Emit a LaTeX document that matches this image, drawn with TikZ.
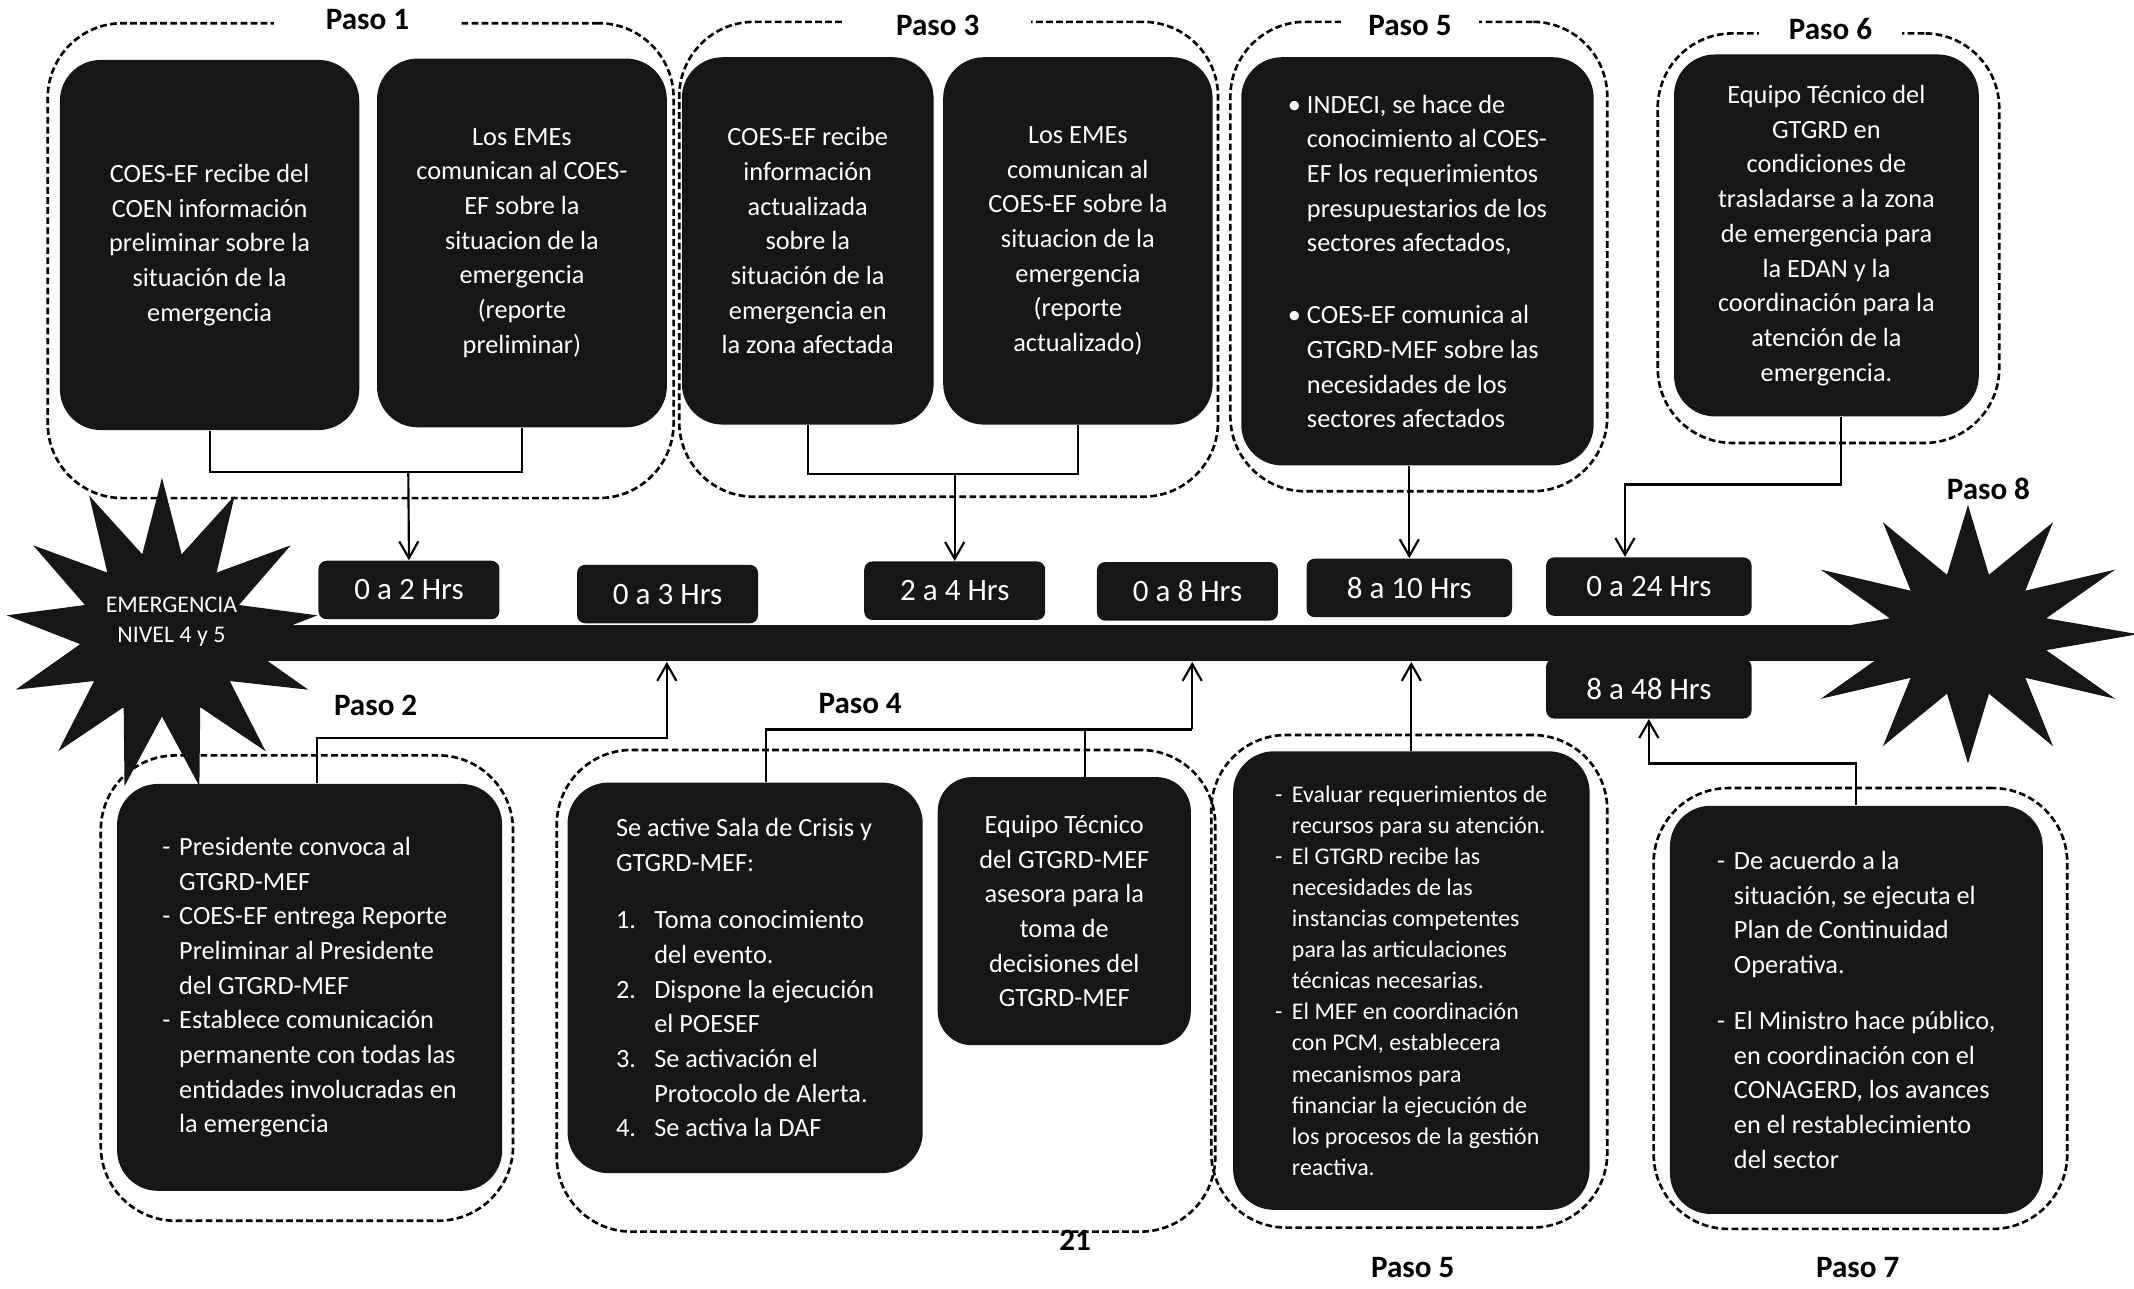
\documentclass[tikz,border=0pt]{standalone}
\usepackage{fontspec}
\setmainfont{Carlito}
\usetikzlibrary{shapes.geometric,arrows.meta}
\definecolor{boxfill}{HTML}{161616}
\newcommand{\itm}[2]{\makebox[#1][l]{#2}}
\begin{document}
\begin{tikzpicture}[x=0.02cm,y=-0.02cm]
     \tikzstyle{every node}+=[inner sep=0pt]
     \tikzstyle{grupo}=[draw, line width=1.1pt, dash pattern=on 2.8pt off 1.4pt, rounded corners=1.1cm]
     \tikzstyle{caja}=[fill=boxfill, rounded corners=0.6cm, text=white, font=\fontsize{11}{14.5}\selectfont]
     \tikzstyle{hora}=[fill=boxfill, rounded corners=0.12cm, text=white, minimum width=2.66cm, minimum height=0.86cm, font=\fontsize{13}{15}\selectfont]
     \tikzstyle{paso}=[font=\bfseries\fontsize{13}{15}\selectfont]
     \tikzstyle{burst}=[star, fill=boxfill, star point ratio=1.8, text=white]
     \tikzstyle{linea}=[line width=0.9pt]
     \tikzstyle{flecha}=[line width=0.9pt, -{Straight Barb[length=7pt,width=8pt]}]
     \useasboundingbox (0,0) rectangle (1568,947);
     \node[grupo, minimum width=9.2cm, minimum height=6.98cm] (g1) at (265,191.5) {};
     \node[grupo, minimum width=7.92cm, minimum height=6.98cm] (g3) at (697,190.5) {};
     \node[grupo, minimum width=5.54cm, minimum height=6.9cm] (g5) at (1042.5,188.5) {};
     \node[grupo, minimum width=5.02cm, minimum height=6.02cm] (g6) at (1343.5,175) {};
     \node[grupo, minimum width=6.06cm, minimum height=6.84cm] (g2) at (225.5,726) {};
     \node[grupo, minimum width=9.68cm, minimum height=7.08cm] (g4) at (651,728) {};
     \node[grupo, minimum width=5.82cm, minimum height=7.24cm] (g5b) at (1035.5,721) {};
     \node[grupo, minimum width=6.08cm, minimum height=6.48cm] (g7) at (1367,741) {};
     \node[paso, fill=white, inner xsep=0.76cm, inner ysep=2pt] (p1) at (270,14) {Paso 1};
     \node[paso, fill=white, inner xsep=0.76cm, inner ysep=2pt] (p3) at (689,19) {Paso 3};
     \node[paso, fill=white, inner xsep=0.41cm, inner ysep=2pt] (p5) at (1036,19) {Paso 5};
     \node[paso, fill=white, inner xsep=0.44cm, inner ysep=2pt] (p6) at (1345,21) {Paso 6};
     \node[caja, align=center, minimum width=4.4cm, minimum height=5.44cm] (c1a) at (154,180) {COES-EF recibe del\\COEN información\\preliminar sobre la\\situación de la\\emergencia};
     \node[caja, align=center, minimum width=4.26cm, minimum height=5.42cm] (c1b) at (383.5,178.5) {Los EMEs\\comunican al COES-\\EF sobre la\\situacion de la\\emergencia\\(reporte\\preliminar)};
     \node[caja, align=center, minimum width=3.7cm, minimum height=5.4cm] (c3a) at (593.5,177) {COES-EF recibe\\información\\actualizada\\sobre la\\situación de la\\emergencia en\\la zona afectada};
     \node[caja, align=center, minimum width=3.96cm, minimum height=5.4cm] (c3b) at (792,177) {Los EMEs\\comunican al\\COES-EF sobre la\\situacion de la\\emergencia\\(reporte\\actualizado)};
     \node[caja, align=left, minimum width=5.18cm, minimum height=6cm] (c5) at (1041.5,192) {\itm{8pt}{\textbullet}INDECI, se hace de\\ \hspace*{8pt}conocimiento al COES-\\ \hspace*{8pt}EF los requerimientos\\ \hspace*{8pt}presupuestarios de los\\ \hspace*{8pt}sectores afectados,\\[15.6pt] \itm{8pt}{\textbullet}COES-EF comunica al\\ \hspace*{8pt}GTGRD-MEF sobre las\\ \hspace*{8pt}necesidades de los\\ \hspace*{8pt}sectores afectados};
     \node[caja, align=center, minimum width=4.48cm, minimum height=5.32cm] (c6) at (1342,173) {Equipo Técnico del\\GTGRD en\\condiciones de\\trasladarse a la zona\\de emergencia para\\la EDAN y la\\coordinación para la\\atención de la\\emergencia.};
     \node[caja, align=left, minimum width=5.66cm, minimum height=5.98cm] (c2) at (227.5,725.5) {\itm{7pt}{-}Presidente convoca al\\ \hspace*{7pt}GTGRD-MEF\\ \itm{7pt}{-}COES-EF entrega Reporte\\ \hspace*{7pt}Preliminar al Presidente\\ \hspace*{7pt}del GTGRD-MEF\\ \itm{7pt}{-}Establece comunicación\\ \hspace*{7pt}permanente con todas las\\ \hspace*{7pt}entidades involucradas en\\ \hspace*{7pt}la emergencia};
     \node[caja, align=left, minimum width=5.22cm, minimum height=5.74cm] (c4a) at (547.5,718.5) {Se active Sala de Crisis y\\GTGRD-MEF:\\[9.4pt] \itm{16pt}{1.}Toma conocimiento\\ \hspace*{16pt}del evento.\\ \itm{16pt}{2.}Dispone la ejecución\\ \hspace*{16pt}el POESEF\\ \itm{16pt}{3.}Se activación el\\ \hspace*{16pt}Protocolo de Alerta.\\ \itm{16pt}{4.}Se activa la DAF};
     \node[caja, align=center, minimum width=3.72cm, minimum height=3.94cm, rounded corners=0.5cm] (c4b) at (782,669.5) {Equipo Técnico\\del GTGRD-MEF\\asesora para la\\toma de\\decisiones del\\GTGRD-MEF};
     \node[caja, align=left, minimum width=5.24cm, minimum height=6.74cm, font=\fontsize{10}{13}\selectfont] (c5b) at (1037,720.5) {\itm{7pt}{-}Evaluar requerimientos de\\ \hspace*{7pt}recursos para su atención.\\ \itm{7pt}{-}El GTGRD recibe las\\ \hspace*{7pt}necesidades de las\\ \hspace*{7pt}instancias competentes\\ \hspace*{7pt}para las articulaciones\\ \hspace*{7pt}técnicas necesarias.\\ \itm{7pt}{-}El MEF en coordinación\\ \hspace*{7pt}con PCM, establecera\\ \hspace*{7pt}mecanismos para\\ \hspace*{7pt}financiar la ejecución de\\ \hspace*{7pt}los procesos de la gestión\\ \hspace*{7pt}reactiva.};
     \node[caja, align=left, minimum width=5.48cm, minimum height=6cm] (c7) at (1364,742) {\itm{7pt}{-}De acuerdo a la\\ \hspace*{7pt}situación, se ejecuta el\\ \hspace*{7pt}Plan de Continuidad\\ \hspace*{7pt}Operativa.\\[8.9pt] \itm{7pt}{-}El Ministro hace público,\\ \hspace*{7pt}en coordinación con el\\ \hspace*{7pt}CONAGERD, los avances\\ \hspace*{7pt}en el restablecimiento\\ \hspace*{7pt}del sector};
     \node[hora] (h02) at (300.5,433.5) {0 a 2 Hrs};
     \node[hora] (h03) at (490.5,436.5) {0 a 3 Hrs};
     \node[hora] (h24) at (701.5,434) {2 a 4 Hrs};
     \node[hora] (h08) at (872.5,434.5) {0 a 8 Hrs};
     \node[hora, minimum width=3.02cm] (h810) at (1035.5,432) {8 a 10 Hrs};
     \node[hora, minimum width=3.02cm] (h024) at (1211.5,431) {0 a 24 Hrs};
     \node[hora, minimum width=3.02cm, minimum height=0.88cm] (h848) at (1211.5,506) {8 a 48 Hrs};
     \node[fill=boxfill, minimum width=25cm, minimum height=0.54cm] (bar) at (795,472.5) {};
     \node[burst, star points=13, star point ratio=1.9, minimum size=4.6cm] (emerg) at (119,466) {};
     \node[align=center, text=white, font=\fontsize{10}{12.5}\selectfont] (emergtxt) at (126,457) {EMERGENCIA\\NIVEL 4 y 5};
     \begin{scope}[shift={(1446,466)}, yscale=0.76]
     \node[burst, star points=12, star point ratio=2.1, minimum size=5cm, transform shape] (fin) at (0,0) {};
     \end{scope}
     \coordinate (b1) at (300,347);
     \draw[linea] (c1a.south) -- (c1a.south |- b1) -- (c1b.south |- b1) -- (c1b.south);
     \draw[flecha] (b1) -- (h02.north);
     \coordinate (b3) at (701.5,348);
     \draw[linea] (c3a.south) -- (c3a.south |- b3) -- (c3b.south |- b3) -- (c3b.south);
     \draw[flecha] (b3) -- (h24.north);
     \draw[flecha] (c5.south -| h810.north) -- (h810.north);
     \coordinate (f6) at ([xshift=0.22cm]c6.south);
     \coordinate (b6) at (1194,356);
     \draw[flecha] (f6) |- (b6) -- (b6 |- h024.north);
     \coordinate (g2t) at ([xshift=0.11cm]c2.north);
     \coordinate (b2) at (490,542);
     \draw[flecha] (g2t) |- (b2) -- (b2 |- bar.south);
     \coordinate (h4) at ([xshift=0.31cm]c4a.north);
     \coordinate (i4) at ([xshift=0.3cm]c4b.north);
     \coordinate (b4) at (876,536);
     \draw[linea] (h4) |- (b4);
     \draw[linea] (i4) -- (i4 |- b4);
     \draw[flecha] (b4) -- (b4 |- bar.south);
     \draw[flecha] (c5b.north) -- (c5b.north |- bar.south);
     \coordinate (b7) at (1211.5,561);
     \draw[flecha] (c7.north) |- (b7) -- (h848.south);
     \node[paso] (p2) at (276,518) {Paso 2};
     \node[paso] (p4) at (632,517) {Paso 4};
     \node[paso] (p8) at (1461,359) {Paso 8};
     \node[paso] (p5b) at (1038,931) {Paso 5};
     \node[paso] (p7) at (1365,931) {Paso 7};
     \node[paso] (pag) at (790,911) {21};
\end{tikzpicture}
\end{document}
